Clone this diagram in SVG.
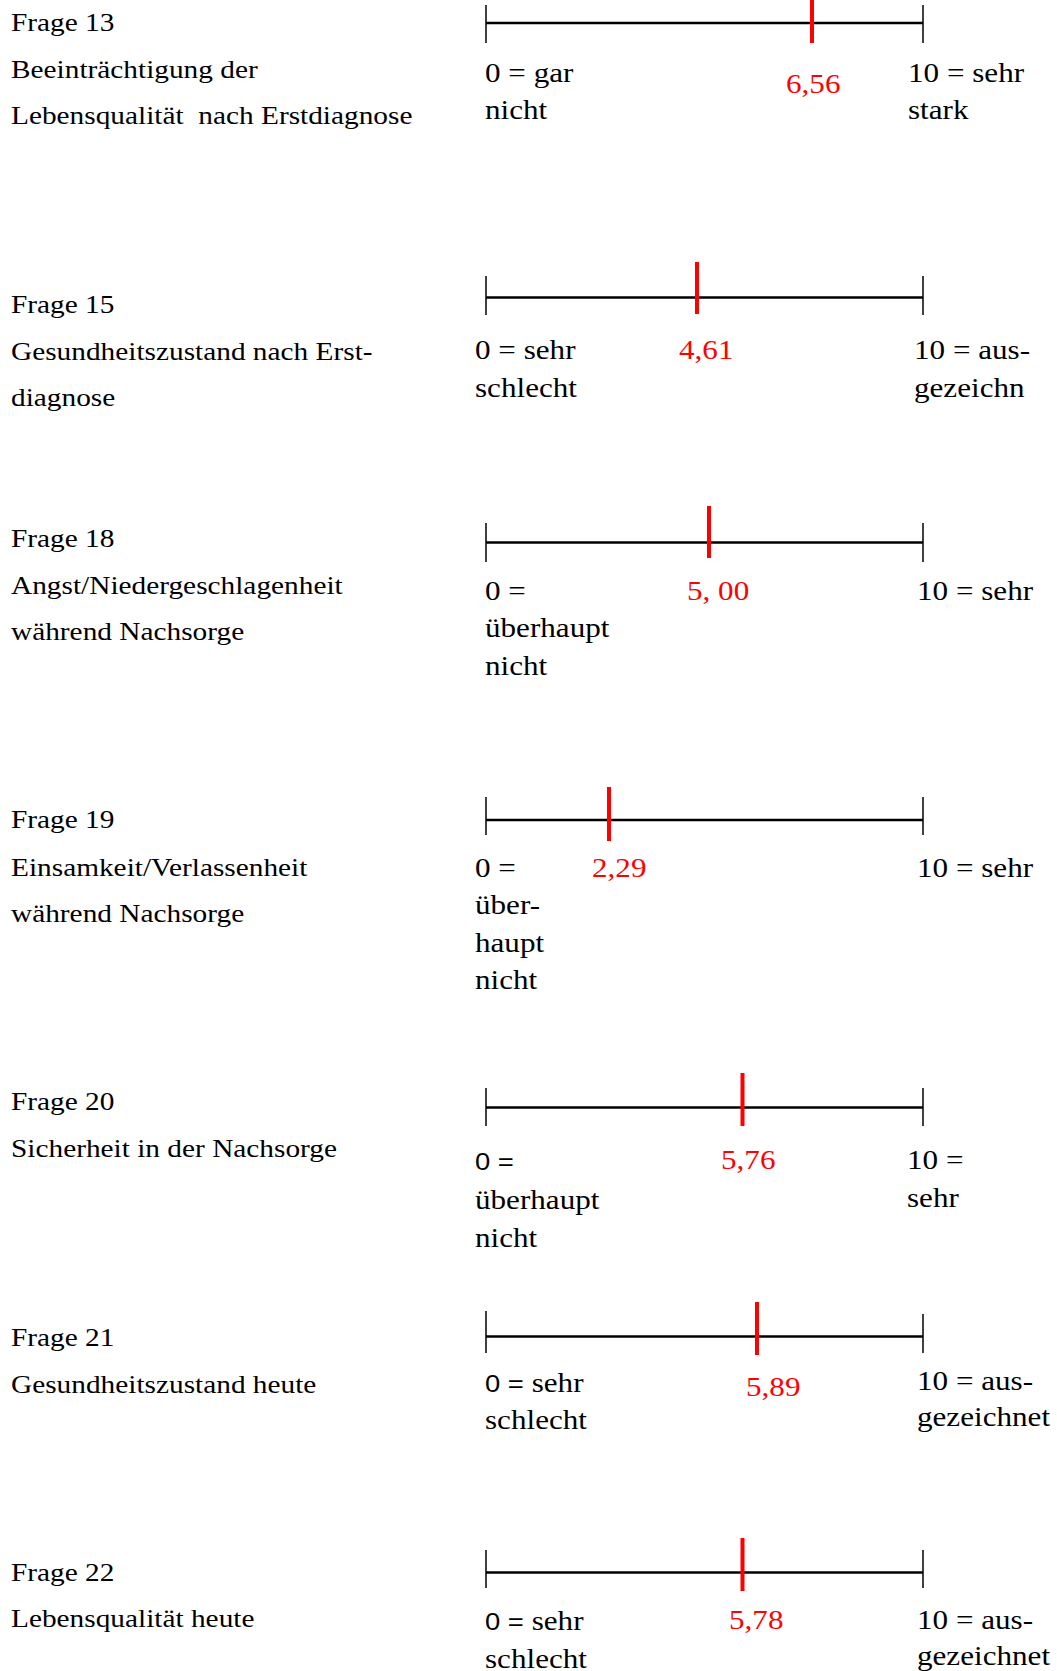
<svg xmlns="http://www.w3.org/2000/svg" width="1057" height="1671" viewBox="0 0 1057 1671">
<style>
text{font-family:"Liberation Serif","Times New Roman",serif;font-size:26.2px;fill:#000}
.v{font-size:27.8px}
.r{fill:#ff0000}
.s{font-family:"Liberation Sans",Arial,sans-serif;font-size:24.5px}
.axis{stroke:#000;stroke-width:2.5}
.tick{stroke:#000;stroke-width:1.5}
.mark{stroke:#ff0000;stroke-width:4}
</style>
<rect width="1057" height="1671" fill="#fff"/>
<g id="frage13">
<text transform="translate(11 31) scale(1.12 1)">Frage 13</text>
<text transform="translate(11 77.5) scale(1.12 1)">Beeinträchtigung der</text>
<text transform="translate(11 124) scale(1.12 1)" xml:space="preserve">Lebensqualität  nach Erstdiagnose</text>
<line class="axis" x1="486" y1="23" x2="923" y2="23"/>
<line class="tick" x1="486" y1="5" x2="486" y2="43"/>
<line class="tick" x1="923" y1="5" x2="923" y2="43"/>
<line class="mark" x1="812" y1="0" x2="812" y2="43"/>
<text class="v" transform="translate(485 81.5) scale(1.12 1)">0 = gar</text>
<text class="v" transform="translate(485 119) scale(1.12 1)">nicht</text>
<text class="v r" transform="translate(786 93) scale(1.12 1)">6,56</text>
<text class="v" transform="translate(908 81.5) scale(1.12 1)">10 = sehr</text>
<text class="v" transform="translate(908 119) scale(1.12 1)">stark</text>
</g>
<g id="frage15">
<text transform="translate(11 312.5) scale(1.12 1)">Frage 15</text>
<text transform="translate(11 359.5) scale(1.12 1)">Gesundheitszustand nach Erst-</text>
<text transform="translate(11 406) scale(1.12 1)">diagnose</text>
<line class="axis" x1="486" y1="297.5" x2="923" y2="297.5"/>
<line class="tick" x1="486" y1="276" x2="486" y2="315"/>
<line class="tick" x1="923" y1="276" x2="923" y2="315"/>
<line class="mark" x1="697" y1="262" x2="697" y2="314"/>
<text class="v" transform="translate(475 359) scale(1.12 1)">0 = sehr</text>
<text class="v" transform="translate(475 397) scale(1.12 1)">schlecht</text>
<text class="v r" transform="translate(679 359) scale(1.12 1)">4,61</text>
<text class="v" transform="translate(914 359) scale(1.12 1)">10 = aus-</text>
<text class="v" transform="translate(914 397) scale(1.12 1)">gezeichn</text>
</g>
<g id="frage18">
<text transform="translate(11 547) scale(1.12 1)">Frage 18</text>
<text transform="translate(11 594) scale(1.12 1)">Angst/Niedergeschlagenheit</text>
<text transform="translate(11 640) scale(1.12 1)">während Nachsorge</text>
<line class="axis" x1="486" y1="542.5" x2="923" y2="542.5"/>
<line class="tick" x1="486" y1="523" x2="486" y2="562"/>
<line class="tick" x1="923" y1="523" x2="923" y2="562"/>
<line class="mark" x1="709" y1="506" x2="709" y2="558"/>
<text class="v" transform="translate(485 600) scale(1.12 1)">0 =</text>
<text class="v" transform="translate(485 637) scale(1.12 1)">überhaupt</text>
<text class="v" transform="translate(485 675) scale(1.12 1)">nicht</text>
<text class="v r" transform="translate(687 600) scale(1.12 1)">5, 00</text>
<text class="v" transform="translate(917 600) scale(1.12 1)">10 = sehr</text>
</g>
<g id="frage19">
<text transform="translate(11 828) scale(1.12 1)">Frage 19</text>
<text transform="translate(11 876) scale(1.12 1)">Einsamkeit/Verlassenheit</text>
<text transform="translate(11 921.5) scale(1.12 1)">während Nachsorge</text>
<line class="axis" x1="486" y1="820" x2="923" y2="820"/>
<line class="tick" x1="486" y1="797" x2="486" y2="835"/>
<line class="tick" x1="923" y1="797" x2="923" y2="835"/>
<line class="mark" x1="609" y1="787" x2="609" y2="841"/>
<text class="v" transform="translate(475 877) scale(1.12 1)">0 =</text>
<text class="v" transform="translate(475 914) scale(1.12 1)">über-</text>
<text class="v" transform="translate(475 951.5) scale(1.12 1)">haupt</text>
<text class="v" transform="translate(475 988.5) scale(1.12 1)">nicht</text>
<text class="v r" transform="translate(592 877) scale(1.12 1)">2,29</text>
<text class="v" transform="translate(917 877) scale(1.12 1)">10 = sehr</text>
</g>
<g id="frage20">
<text transform="translate(11 1110) scale(1.12 1)">Frage 20</text>
<text transform="translate(11 1156.5) scale(1.12 1)">Sicherheit in der Nachsorge</text>
<line class="axis" x1="486" y1="1107.5" x2="923" y2="1107.5"/>
<line class="tick" x1="486" y1="1088" x2="486" y2="1126"/>
<line class="tick" x1="923" y1="1088" x2="923" y2="1126"/>
<line class="mark" x1="742.5" y1="1073" x2="742.5" y2="1126"/>
<text class="s" transform="translate(475 1170) scale(1.12 1)">0 =</text>
<text class="v" transform="translate(475 1209) scale(1.12 1)">überhaupt</text>
<text class="v" transform="translate(475 1247) scale(1.12 1)">nicht</text>
<text class="v r" transform="translate(721 1169) scale(1.12 1)">5,76</text>
<text class="v" transform="translate(907 1169) scale(1.12 1)">10 =</text>
<text class="v" transform="translate(907 1207) scale(1.12 1)">sehr</text>
</g>
<g id="frage21">
<text transform="translate(11 1346) scale(1.12 1)">Frage 21</text>
<text transform="translate(11 1392.5) scale(1.12 1)">Gesundheitszustand heute</text>
<line class="axis" x1="486" y1="1336.5" x2="923" y2="1336.5"/>
<line class="tick" x1="486" y1="1311" x2="486" y2="1353"/>
<line class="tick" x1="923" y1="1314" x2="923" y2="1353"/>
<line class="mark" x1="757" y1="1302" x2="757" y2="1355"/>
<text class="v" transform="translate(485 1391.5) scale(1.12 1)"><tspan class="s">0 =</tspan> sehr</text>
<text class="v" transform="translate(485 1429) scale(1.12 1)">schlecht</text>
<text class="v r" transform="translate(746 1396) scale(1.12 1)">5,89</text>
<text class="v" transform="translate(917 1390) scale(1.12 1)">10 = aus-</text>
<text class="v" transform="translate(917 1426) scale(1.12 1)">gezeichnet</text>
</g>
<g id="frage22">
<text transform="translate(11 1580.5) scale(1.12 1)">Frage 22</text>
<text transform="translate(11 1627) scale(1.12 1)">Lebensqualität heute</text>
<line class="axis" x1="486" y1="1572.5" x2="923" y2="1572.5"/>
<line class="tick" x1="486" y1="1550" x2="486" y2="1588"/>
<line class="tick" x1="923" y1="1550" x2="923" y2="1588"/>
<line class="mark" x1="742.5" y1="1538" x2="742.5" y2="1591"/>
<text class="v" transform="translate(485 1630) scale(1.12 1)"><tspan class="s">0 =</tspan> sehr</text>
<text class="v" transform="translate(485 1668) scale(1.12 1)">schlecht</text>
<text class="v r" transform="translate(729 1629) scale(1.12 1)">5,78</text>
<text class="v" transform="translate(917 1629) scale(1.12 1)">10 = aus-</text>
<text class="v" transform="translate(917 1665) scale(1.12 1)">gezeichnet</text>
</g>
<g id="connectors"></g>
</svg>
